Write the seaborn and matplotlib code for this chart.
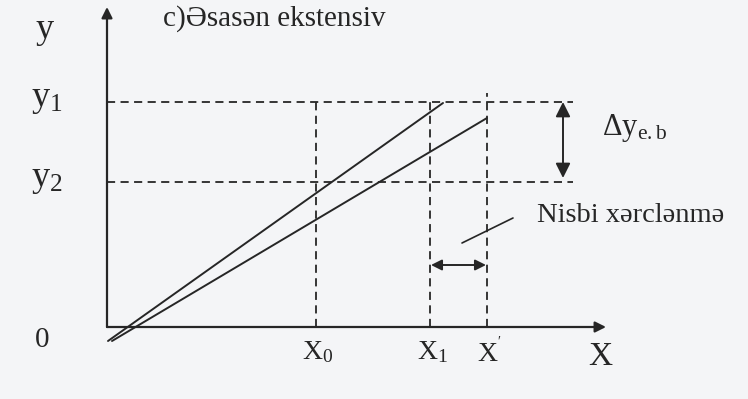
import matplotlib
matplotlib.use("Agg")
import matplotlib.pyplot as plt
import seaborn as sns
import pandas as pd

# ---- data (diagram units: origin at the axes crossing) ----
x_marks = [209, 323, 380]            # X0, X1, X'
x_labels = [r"$\mathrm{X}_{0}$", r"$\mathrm{X}_{1}$", r"$\mathrm{X}^{'}$"]
x_mark_tops = [225, 225, 234]
y_levels = [225, 145]                # y1, y2
y_labels = [r"$\mathrm{y}_{1}$", r"$\mathrm{y}_{2}$"]
line_names = ["upper", "lower"]
line_x = [[1, 336], [5, 380]]
line_y = [[-14, 224], [-14, 209]]
x_axis_end = 499
y_axis_end = 320
dash_end = 466

sns.set_theme(style="white")
plt.rcParams["font.family"] = ["Liberation Serif", "DejaVu Serif"]
plt.rcParams["mathtext.fontset"] = "custom"
plt.rcParams["mathtext.rm"] = "Liberation Serif"
plt.rcParams["mathtext.it"] = "Liberation Serif:italic"

bg = "#f4f5f7"
ink = "#262626"

fig = plt.figure(figsize=(7.48, 3.99), dpi=100, facecolor=bg)
ax = fig.add_axes([0, 0, 1, 1])
ax.set_facecolor(bg)
ax.set_xlim(-107, 641)
ax.set_ylim(-72, 327)
ax.axis("off")

rows = []
for n, xs, ys in zip(line_names, line_x, line_y):
    for xv, yv in zip(xs, ys):
        rows.append({"x": xv, "y": yv, "line": n})
df = pd.DataFrame(rows)
sns.lineplot(data=df, x="x", y="y", hue="line", palette=[ink, ink],
             linewidth=1.4, legend=False, ax=ax, sort=False)

dash = dict(color=ink, linewidth=1.3, linestyle=(0, (4.5, 3.0)))
# horizontal dashed levels
for yv in y_levels:
    ax.plot([0, dash_end], [yv, yv], **dash)
# vertical dashed marks
for xv, top in zip(x_marks, x_mark_tops):
    ax.plot([xv, xv], [0, top], **dash)

# axes with arrows
ax.annotate("", xy=(x_axis_end, 0), xytext=(0, 0),
            arrowprops=dict(arrowstyle="-|>", color=ink, lw=1.6,
                            mutation_scale=16, shrinkA=0, shrinkB=0))
ax.annotate("", xy=(0, y_axis_end), xytext=(0, 0),
            arrowprops=dict(arrowstyle="-|>", color=ink, lw=1.6,
                            mutation_scale=16, shrinkA=0, shrinkB=0))

# delta y double arrow
ax.annotate("", xy=(456, y_levels[0]), xytext=(456, y_levels[1] + 4),
            arrowprops=dict(arrowstyle="<|-|>", color=ink, lw=1.4,
                            mutation_scale=22, shrinkA=0, shrinkB=0))
# horizontal double arrow between X1 and X'
ax.annotate("", xy=(x_marks[1] + 1, 62), xytext=(x_marks[2] - 1, 62),
            arrowprops=dict(arrowstyle="<|-|>", color=ink, lw=1.4,
                            mutation_scale=16, shrinkA=0, shrinkB=0))
# pointer line for "Nisbi xərclənmə"
ax.plot([355, 406], [84, 109], color=ink, linewidth=1.2)

big = 26
ax.text(-62, 297, "y", fontsize=big, color=ink, ha="center", va="center")
for yv, lab in zip(y_levels, y_labels):
    ax.text(-60, yv + 3, lab, fontsize=big, color=ink, ha="center", va="center")
ax.text(-65, -13, "0", fontsize=21, color=ink, ha="center", va="center")

for xv, lab in zip(x_marks, x_labels):
    ax.text(xv + 2, -25, lab, fontsize=20, color=ink, ha="center", va="center")
ax.text(493, -30, "X", fontsize=24, color=ink, ha="center", va="center")

ax.text(56, 308, "c)Əsasən ekstensiv", fontsize=21, color=ink,
        ha="left", va="center")
ax.text(495, 199, r"$\Delta\mathrm{y}_{\mathrm{e.b}}$", fontsize=22, color=ink,
        ha="left", va="center")
ax.text(430, 112, "Nisbi xərclənmə", fontsize=20.5, color=ink,
        ha="left", va="center")

fig.savefig("out.png", dpi=100, facecolor=bg)
